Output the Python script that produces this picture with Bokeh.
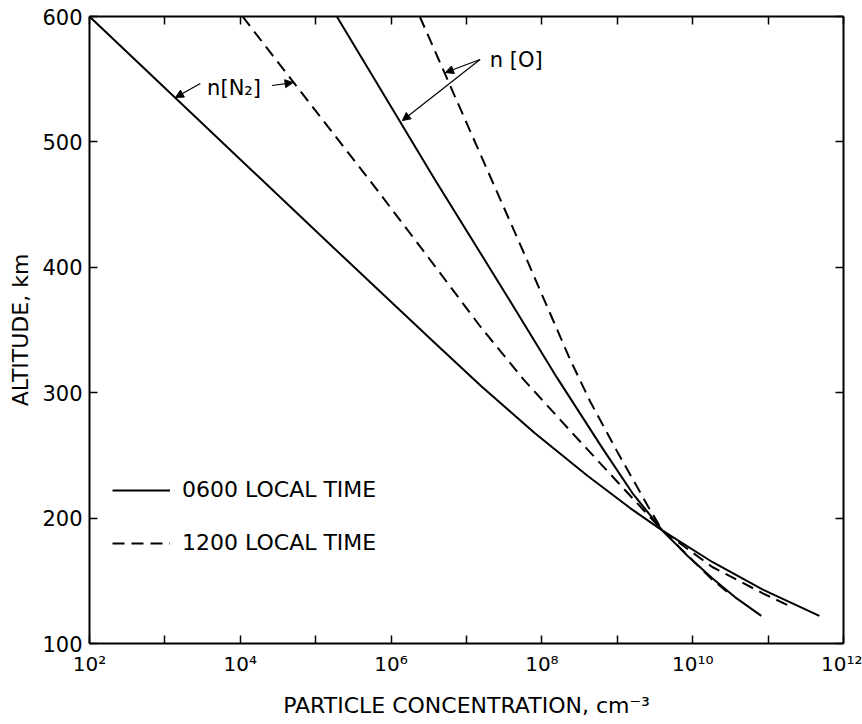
from bokeh.plotting import figure
from bokeh.models import (LogAxis, LinearAxis, FixedTicker, Range1d, Arrow,
                          NormalHead, Label, Legend, LegendItem)
from bokeh.embed import file_html
from bokeh.resources import INLINE

# ---- data (log10 of particle concentration in cm^-3, altitude in km) ----
n2_0600_log = [2.00, 3.14, 5.23, 6.52, 7.20, 7.90, 8.60, 9.17, 9.60, 10.26, 10.93, 11.68]
n2_0600_alt = [600, 535, 416, 343, 305, 268, 234, 208, 190, 165, 143, 122]

n2_1200_log = [4.03, 5.10, 5.76, 6.48, 7.18, 7.75, 8.40, 9.00, 9.60, 10.26, 10.93, 11.28]
n2_1200_alt = [600, 517, 466, 409, 353, 311, 268, 229, 190, 161, 140, 130]

o_0600_log = [5.28, 6.58, 7.58, 8.20, 8.80, 9.20, 9.60, 9.93, 10.26, 10.56, 10.91]
o_0600_alt = [600, 470, 373, 312, 256, 220, 190, 170, 152, 137, 122]

o_1200_log = [6.38, 7.09, 7.75, 8.37, 8.64, 8.99, 9.43, 9.60, 10.24, 10.52]
o_1200_alt = [600, 503, 413, 327, 293, 254, 207, 190, 152, 138]

x_tick_exponents = [2, 3, 4, 5, 6, 7, 8, 9, 10, 11, 12]
x_tick_labels = ["10²", "", "10⁴", "", "10⁶", "", "10⁸", "", "10¹⁰", "", "10¹²"]
y_ticks = [100, 200, 300, 400, 500, 600]

legend_labels = ["0600 LOCAL TIME", "1200 LOCAL TIME"]
species_labels = ["n[N₂]", "n [O]"]

FONT = "DejaVu Sans"
DASH = "12 7"


def conc(logs):
    return [10 ** v for v in logs]


p = figure(x_axis_type="log", x_range=Range1d(1e2, 1e12), y_range=Range1d(100, 600),
           frame_width=754, frame_height=627,
           min_border_left=89, min_border_right=19, min_border_top=16, min_border_bottom=81,
           toolbar_location=None, output_backend="svg")
p.grid.visible = False
p.outline_line_color = None
p.background_fill_color = "white"

r1 = p.line(conc(n2_0600_log), n2_0600_alt, line_color="black", line_width=2, line_join="round")
r2 = p.line(conc(n2_1200_log), n2_1200_alt, line_color="black", line_width=2, line_dash=DASH)
r3 = p.line(conc(o_0600_log), o_0600_alt, line_color="black", line_width=2, line_join="round")
r4 = p.line(conc(o_1200_log), o_1200_alt, line_color="black", line_width=2, line_dash=DASH)

x_ticks = [10.0 ** e for e in x_tick_exponents]
overrides = {t: lab for t, lab in zip(x_ticks, x_tick_labels)}


def style_axis(ax, show_labels):
    ax.axis_line_width = 2
    ax.axis_line_color = "black"
    ax.major_tick_in = 8
    ax.major_tick_out = 0
    ax.major_tick_line_width = 1.5
    ax.major_tick_line_color = "black"
    ax.minor_tick_line_color = None
    ax.major_label_text_font = FONT
    ax.major_label_text_color = "black"
    ax.axis_label_text_font = FONT
    ax.axis_label_text_font_style = "normal"
    ax.axis_label_text_color = "black"
    if not show_labels:
        ax.major_label_text_font_size = "0px"
        ax.major_label_standoff = 0


# bottom axis
xa = p.xaxis[0]
xa.ticker = FixedTicker(ticks=x_ticks)
xa.major_label_overrides = overrides
style_axis(xa, True)
xa.major_label_text_font_size = "20px"
xa.major_label_standoff = 8
xa.axis_label = "PARTICLE CONCENTRATION, cm⁻³"
xa.axis_label_text_font_size = "22px"
xa.axis_label_standoff = 14

# left axis
ya = p.yaxis[0]
ya.ticker = FixedTicker(ticks=y_ticks)
style_axis(ya, True)
ya.major_label_text_font_size = "21px"
ya.major_label_standoff = 7
ya.axis_label = "ALTITUDE, km"
ya.axis_label_text_font_size = "22px"
ya.axis_label_standoff = 6

# top & right frame axes (ticks only)
top = LogAxis(ticker=FixedTicker(ticks=x_ticks))
style_axis(top, False)
top.major_label_overrides = {t: "" for t in x_ticks}
p.add_layout(top, "above")

right = LinearAxis(ticker=FixedTicker(ticks=y_ticks))
style_axis(right, False)
right.major_label_overrides = {t: "" for t in y_ticks}
p.add_layout(right, "right")

# legend
legend = Legend(items=[LegendItem(label=legend_labels[0], renderers=[r1]),
                       LegendItem(label=legend_labels[1], renderers=[r2])],
                location=(23, 88), orientation="vertical",
                border_line_alpha=0, background_fill_alpha=0,
                glyph_width=58, glyph_height=24, label_standoff=12,
                spacing=28, padding=0, margin=0,
                label_text_font=FONT, label_text_font_size="22px",
                label_text_color="black")
p.add_layout(legend)

# species labels with arrows
p.add_layout(Label(x=10 ** 3.56, y=543, text=species_labels[0], text_font=FONT,
                   text_font_size="21px", text_baseline="middle", text_align="left",
                   text_color="black"))
p.add_layout(Label(x=10 ** 7.31, y=565, text=species_labels[1], text_font=FONT,
                   text_font_size="21px", text_baseline="middle", text_align="left",
                   text_color="black"))

arrows = [
    (3.47, 546.5, 3.14, 535.4),
    (4.42, 545.0, 4.70, 547.3),
    (7.18, 565.7, 6.15, 517.0),
    (7.18, 565.7, 6.72, 555.3),
]
for xs, ys, xe, ye in arrows:
    p.add_layout(Arrow(end=NormalHead(size=8, fill_color="black", line_color="black"),
                       x_start=10 ** xs, y_start=ys, x_end=10 ** xe, y_end=ye,
                       line_width=1.2, line_color="black"))

open("out.html", "w").write(file_html(p, INLINE))
